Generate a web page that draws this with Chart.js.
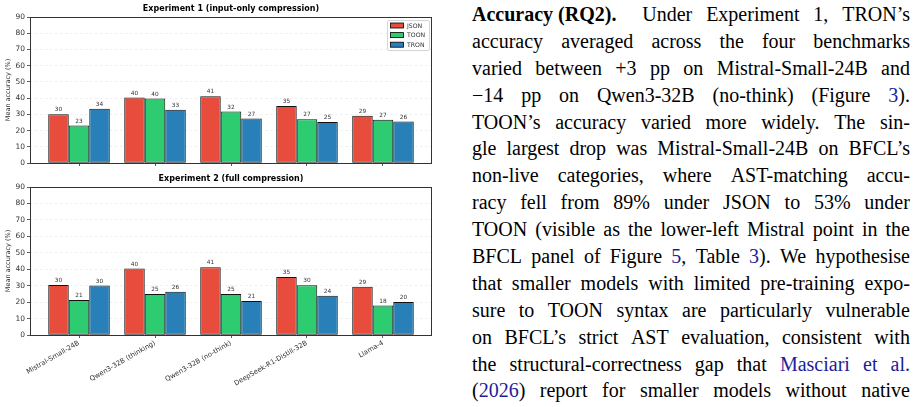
<!DOCTYPE html>
<html>
<head>
<meta charset="utf-8">
<script src="https://cdn.jsdelivr.net/npm/chart.js@4.4.1/dist/chart.umd.min.js"></script>
<style>
html,body{margin:0;padding:0;background:#fff;width:917px;height:407px;overflow:hidden;}
#c1{position:absolute;left:0;top:0;}
#c2{position:absolute;left:0;top:170px;}
#txt{position:absolute;left:472px;top:1px;width:438px;font-family:"Liberation Serif","Times New Roman","DejaVu Serif",serif;font-size:20px;line-height:26.9px;color:#000;}
#txt .ln{display:flex;justify-content:space-between;white-space:nowrap;height:26.9px;}
#txt .l{color:#1d1d9b;}
#txt .hd{font-weight:bold;margin-right:12px;}
</style>
</head>
<body>
<canvas id="c1" width="440" height="170"></canvas>
<canvas id="c2" width="440" height="237"></canvas>
<div id="txt"></div>
<script>
// ---------- data ----------
const categories = ['Mistral-Small-24B', 'Qwen3-32B (thinking)', 'Qwen3-32B (no-think)', 'DeepSeek-R1-Distill-32B', 'Llama-4'];
const seriesNames = ['JSON', 'TOON', 'TRON'];
const exp1JSON = [30.1, 40.3, 41.1, 35.2, 29.2];
const exp1TOON = [23.1, 39.7, 31.7, 27.0, 26.6];
const exp1TRON = [33.5, 32.9, 27.4, 25.2, 25.6];
const exp2JSON = [30.4, 40.4, 41.2, 35.3, 29.4];
const exp2TOON = [21.3, 25.0, 25.0, 30.2, 17.9];
const exp2TRON = [30.1, 26.3, 20.7, 23.8, 20.1];
const yTickValues = [0, 10, 20, 30, 40, 50, 60, 70, 80, 90];
const titles = ['Experiment 1 (input-only compression)', 'Experiment 2 (full compression)'];
const yAxisTitle = 'Mean accuracy (%)';
const seriesColors = ['#e74c3c', '#2ecc71', '#2980b9'];

Chart.defaults.font.family = '"DejaVu Sans", sans-serif';
Chart.defaults.color = '#333';

const deco = {
  id: 'deco',
  afterDatasetsDraw(chart, args, opts) {
    const ctx = chart.ctx, a = chart.chartArea;
    ctx.save();
    // value labels
    ctx.font = '5.8px "DejaVu Sans"';
    ctx.fillStyle = '#333';
    ctx.textAlign = 'center';
    ctx.textBaseline = 'bottom';
    chart.data.datasets.forEach((ds, di) => {
      chart.getDatasetMeta(di).data.forEach((bar, i) => {
        ctx.fillText(String(Math.round(ds.data[i].y)), bar.x, bar.y - 1.5);
      });
    });
    // spines
    ctx.strokeStyle = '#333';
    ctx.lineWidth = 1;
    ctx.strokeRect(Math.round(a.left) + 0.5, Math.round(a.top) + 0.5, Math.round(a.right - a.left) - 1, Math.round(a.bottom - a.top));
    // title
    ctx.font = 'bold 8px "DejaVu Sans"';
    ctx.fillStyle = '#000';
    ctx.textBaseline = 'middle';
    ctx.fillText(opts.title, (a.left + a.right) / 2, a.top - 8);
    // legend
    if (opts.legend) {
      const lw = 42, lh = 30;
      const lx = a.right - 3 - lw, ly = a.top + 3;
      ctx.fillStyle = 'rgba(255,255,255,0.85)';
      ctx.strokeStyle = '#ccc';
      ctx.lineWidth = 0.8;
      ctx.beginPath();
      ctx.roundRect(lx + 0.5, ly + 0.5, lw, lh, 1.5);
      ctx.fill();
      ctx.stroke();
      ctx.font = '6.2px "DejaVu Sans"';
      ctx.textAlign = 'left';
      chart.data.datasets.forEach((ds, di) => {
        const cy = ly + 5.5 + di * 9.6;
        ctx.fillStyle = ds.backgroundColor;
        ctx.fillRect(lx + 3.5, cy - 2.5, 13, 5);
        ctx.strokeStyle = '#000';
        ctx.lineWidth = 0.8;
        ctx.strokeRect(lx + 3.5, cy - 2.5, 13, 5);
        ctx.fillStyle = '#333';
        ctx.fillText(ds.label, lx + 20, cy + 0.5);
      });
    }
    ctx.restore();
  }
};

function makeChart(canvasId, title, json, toon, tron, showX, legend, xHeight) {
  const series = [json, toon, tron];
  return new Chart(document.getElementById(canvasId), {
    type: 'bar',
    data: {
      datasets: seriesNames.map((n, k) => ({
        label: n,
        data: series[k].map((v, i) => ({x: i, y: v})),
        backgroundColor: seriesColors[k],
        borderColor: '#111',
        borderWidth: 1,
        borderSkipped: false,
        categoryPercentage: 0.81,
        barPercentage: 1.0
      }))
    },
    options: {
      responsive: false,
      animation: false,
      events: [],
      layout: {padding: {top: 17, right: 8, left: 0, bottom: 0}},
      plugins: {legend: {display: false}, tooltip: {enabled: false}, deco: {title: title, legend: legend}},
      scales: {
        x: {
          type: 'linear',
          min: -0.645, max: 4.645,
          offset: false,
          afterBuildTicks: (ax) => { ax.ticks = categories.map((c, i) => ({value: i})); },
          afterFit: (s) => { s.height = xHeight; },
          ticks: {
            autoSkip: false,
            minRotation: 30, maxRotation: 30,
            font: {size: 6.8},
            color: '#333',
            padding: 1,
            callback: (v) => showX ? categories[v] : ''
          },
          grid: {offset: false, drawOnChartArea: false, tickLength: 3, tickColor: '#333', tickWidth: 0.8},
          border: {display: false}
        },
        y: {
          min: 0, max: 90,
          afterBuildTicks: (ax) => { ax.ticks = yTickValues.map(v => ({value: v})); },
          afterFit: (s) => { s.width = 30; },
          ticks: {font: {size: 7.5}, color: '#333', padding: 2},
          grid: {color: 'rgba(0,0,0,0.11)', lineWidth: 0.6, tickColor: '#333', tickLength: 3, tickWidth: 0.8, tickBorderDash: []},
          border: {display: false, dash: [2.5, 2.5]},
          title: {display: true, text: yAxisTitle, font: {size: 6.5}, color: '#333', padding: {top: 4, bottom: 0}}
        }
      }
    },
    plugins: [deco]
  });
}

makeChart('c1', titles[0], exp1JSON, exp1TOON, exp1TRON, false, true, 7);
makeChart('c2', titles[1], exp2JSON, exp2TOON, exp2TRON, true, false, 72);

// ---------- text ----------
const textLines = [
  'Under Experiment 1, TRON’s',
  'accuracy averaged across the four benchmarks',
  'varied between +3 pp on Mistral-Small-24B and',
  '−14 pp on Qwen3-32B (no-think) (Figure [3]).',
  'TOON’s accuracy varied more widely. The sin-',
  'gle largest drop was Mistral-Small-24B on BFCL’s',
  'non-live categories, where AST-matching accu-',
  'racy fell from 89% under JSON to 53% under',
  'TOON (visible as the lower-left Mistral point in the',
  'BFCL panel of Figure [5], Table [3]). We hypothesise',
  'that smaller models with limited pre-training expo-',
  'sure to TOON syntax are particularly vulnerable',
  'on BFCL’s strict AST evaluation, consistent with',
  'the structural-correctness gap that [Masciari] [et] [al.]',
  '([2026]) report for smaller models without native'
];
const txt = document.getElementById('txt');
textLines.forEach((line, li) => {
  const d = document.createElement('div');
  d.className = 'ln';
  let html = '';
  if (li === 0) html += '<span class="hd">Accuracy (RQ2).</span>';
  html += line.split(' ').map(w => '<span>' + w.replace(/\[(.*?)\]/g, '<span class="l">$1</span>') + '</span>').join('');
  d.innerHTML = html;
  txt.appendChild(d);
});
</script>
</body>
</html>
